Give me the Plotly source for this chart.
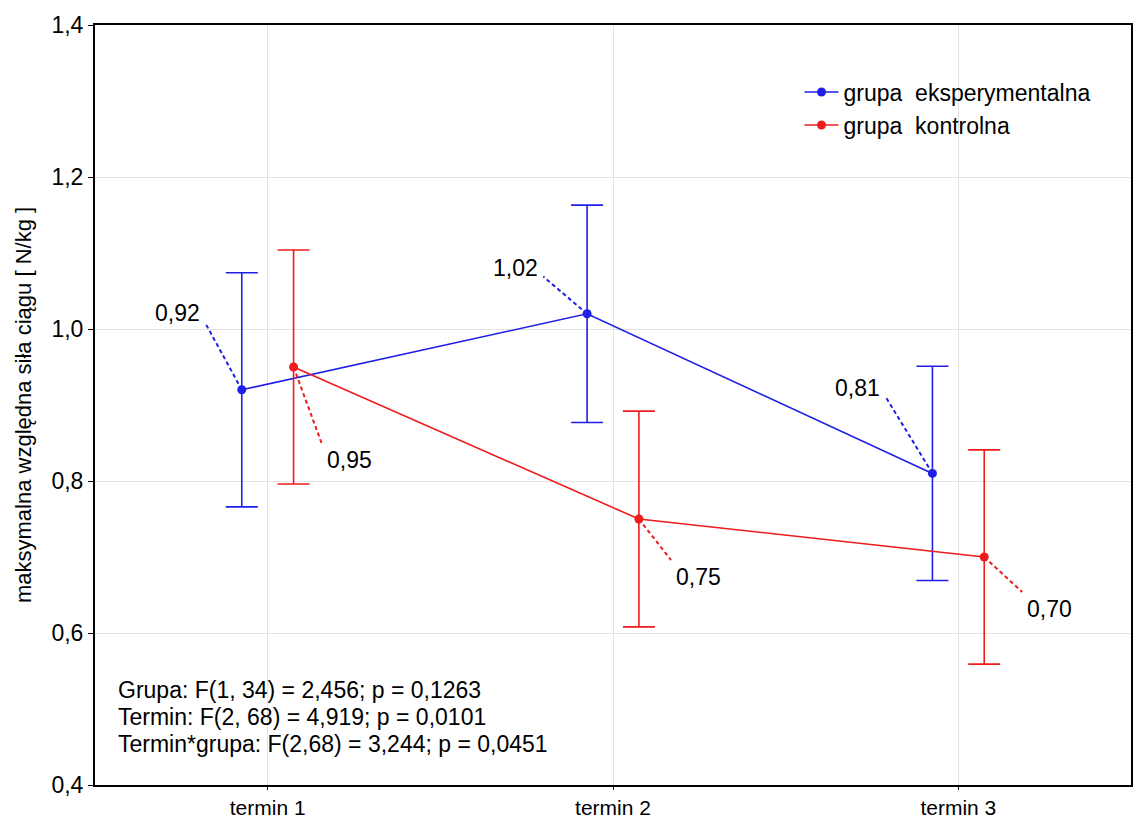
import plotly.graph_objects as go

# Measurement terms and group means with error half-widths
terms = ["termin 1", "termin 2", "termin 3"]
exp_name = "grupa  eksperymentalna"
ctrl_name = "grupa  kontrolna"
exp_mean = [0.92, 1.02, 0.81]
exp_err = [0.154, 0.143, 0.141]
ctrl_mean = [0.95, 0.75, 0.70]
ctrl_err = [0.154, 0.142, 0.141]
stats_lines = [
    "Grupa: F(1, 34) = 2,456; p = 0,1263",
    "Termin: F(2, 68) = 4,919; p = 0,0101",
    "Termin*grupa: F(2,68) = 3,244; p = 0,0451",
]

BLUE = "#1f1fe6"
RED = "#ee1c1c"
FONT = "Liberation Sans, Arial, sans-serif"
SHIFT = 0.075  # horizontal dodge between groups
TXT = 23

pos = list(range(len(terms)))
exp_x = [p - SHIFT for p in pos]
ctrl_x = [p + SHIFT for p in pos]

fig = go.Figure()

for name, xs, ys, es, color in [
    (exp_name, exp_x, exp_mean, exp_err, BLUE),
    (ctrl_name, ctrl_x, ctrl_mean, ctrl_err, RED),
]:
    fig.add_trace(go.Scatter(
        x=xs, y=ys, name=name, mode="lines+markers",
        line=dict(color=color, width=1.6),
        marker=dict(color=color, size=9),
        error_y=dict(type="data", array=es, visible=True,
                     color=color, thickness=1.6, width=16),
    ))

# Value labels linked to each mean by a short dashed leader
# (dx, dy) leader offsets in axis units, with label placement
leaders = [
    (exp_x, exp_mean, BLUE, [(-0.107, 0.089, "up"), (-0.127, 0.049, "up"), (-0.136, 0.101, "up")]),
    (ctrl_x, ctrl_mean, RED, [(0.081, -0.100, "down"), (0.093, -0.054, "down"), (0.110, -0.046, "down")]),
]
annotations = []
for xs, ys, color, offs in leaders:
    for x0, y0, (dx, dy, side) in zip(xs, ys, offs):
        x1, y1 = x0 + dx, y0 + dy
        fig.add_trace(go.Scatter(
            x=[x0, x1], y=[y0, y1], mode="lines", showlegend=False,
            hoverinfo="skip",
            line=dict(color=color, width=2, dash="4px,3px"),
        ))
        label = f"{y0:.2f}".replace(".", ",")
        if side == "up":
            annotations.append(dict(
                x=x1, y=y1, text=label, showarrow=False,
                xanchor="right", yanchor="bottom", xshift=-3, yshift=-6,
                font=dict(family=FONT, size=TXT, color="black")))
        else:
            annotations.append(dict(
                x=x1, y=y1, text=label, showarrow=False,
                xanchor="left", yanchor="top", xshift=3, yshift=-2,
                font=dict(family=FONT, size=TXT, color="black")))

# ANOVA summary, one annotation per line for tight spacing
for i, line in enumerate(stats_lines):
    annotations.append(dict(
        xref="paper", yref="paper", x=0.02, y=0.125,
        xanchor="left", yanchor="middle", align="left", showarrow=False,
        yshift=-27 * i, text=line,
        font=dict(family=FONT, size=TXT, color="black"),
    ))

fig.update_layout(
    width=1135, height=819,
    margin=dict(l=95, r=4, t=25, b=34),
    paper_bgcolor="white", plot_bgcolor="white",
    separators=",.",
    font=dict(family=FONT, size=TXT, color="black"),
    annotations=annotations,
    legend=dict(
        x=0.68, y=0.94, xanchor="left", yanchor="top",
        bgcolor="rgba(0,0,0,0)", font=dict(size=TXT),
        tracegroupgap=4, itemwidth=34,
    ),
    xaxis=dict(
        range=[-0.5, 2.5], tickvals=pos, ticktext=terms,
        showgrid=True, gridcolor="#e3e3e3", gridwidth=1,
        showline=True, linecolor="black", linewidth=2, mirror=True,
        ticks="outside", ticklen=3, tickcolor="black",
        zeroline=False, tickfont=dict(size=21), automargin=False,
        ticklabelstandoff=0,
    ),
    yaxis=dict(
        range=[0.4, 1.4], dtick=0.2, tickformat=".1f",
        showgrid=True, gridcolor="#e3e3e3", gridwidth=1,
        showline=True, linecolor="black", linewidth=2, mirror=True,
        ticks="outside", ticklen=5, tickcolor="black",
        zeroline=False, tickfont=dict(size=TXT), automargin=False,
        title=dict(text="maksymalna względna siła ciągu [ N/kg ]",
                   font=dict(size=22), standoff=14),
    ),
)

fig.write_html("out.html")
